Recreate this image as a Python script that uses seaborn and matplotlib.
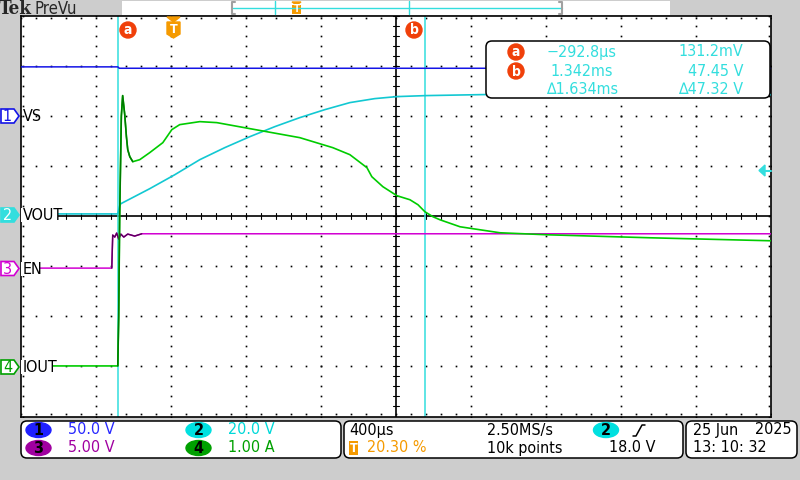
import numpy as np
import pandas as pd
import matplotlib
matplotlib.use('Agg')
import matplotlib.pyplot as plt
from matplotlib.patches import FancyBboxPatch, Rectangle, Ellipse, Circle, Polygon
import seaborn as sns

# ---- scope settings ----
T_DIV = 0.4        # ms per division (400 us/div)
T_CENTER = 1.1885  # ms at screen centre (trigger at 20.30 %)

# ---- traces (time in ms) ----
vs_t = [-0.811, -0.293, -0.285, 3.189]
vs_v = [49.2, 49.2, 47.8, 47.8]

vout_t = [-0.811, -0.293, -0.283, -0.277, -0.123, 0.011, 0.144, 0.277, 0.411, 0.544,
          0.677, 0.811, 0.944, 1.077, 1.195, 1.349, 1.653, 3.189]
vout_v = [0.13, 0.13, 3.4, 4.2, 10.2, 15.8, 21.8, 26.6, 31.0, 35.0,
          38.6, 41.8, 44.6, 46.2, 47.0, 47.4, 47.8, 47.8]

en_t = [-0.811, -0.325, -0.320, -0.309, -0.299, -0.288, -0.277, -0.261, -0.240, -0.203, -0.165, 3.189]
en_v = [0.0, 0.0, 3.3, 3.1, 3.5, 2.9, 3.4, 3.1, 3.4, 3.2, 3.43, 3.43]

iout_t = [-0.811, -0.293, -0.288, -0.283, -0.274, -0.267, -0.256, -0.247, -0.240, -0.229,
          -0.213, -0.176, -0.123, -0.053, -0.005, 0.037, 0.144, 0.235, 0.411, 0.677,
          0.853, 0.944, 1.035, 1.061, 1.120, 1.195, 1.264, 1.307, 1.344, 1.387,
          1.424, 1.531, 1.744, 1.995, 2.544, 3.189]
iout_a = [0.01, 0.01, 1.0, 3.0, 5.0, 5.41, 5.03, 4.59, 4.33, 4.19,
          4.09, 4.13, 4.27, 4.47, 4.73, 4.83, 4.89, 4.87, 4.75, 4.57,
          4.37, 4.23, 3.97, 3.79, 3.59, 3.41, 3.33, 3.23, 3.09, 2.99,
          2.93, 2.79, 2.67, 2.63, 2.57, 2.51]

cursor_t = [-0.2928, 1.342]

# volts (or amps) per division and ground position in divisions
ch_scale = {'VS': 50.0, 'VOUT': 20.0, 'EN': 5.0, 'IOUT': 1.0}
ch_offset = {'VS': 2.0, 'VOUT': 0.04, 'EN': -1.036, 'IOUT': -3.0}


def to_screen(t, v, ch):
    return pd.DataFrame({'x': (np.asarray(t) - T_CENTER) / T_DIV,
                         'y': np.asarray(v) / ch_scale[ch] + ch_offset[ch]})


sns.set_style('white')
FONT = ['DejaVu Sans Condensed', 'Liberation Sans Narrow', 'DejaVu Sans']
plt.rcParams['font.family'] = FONT
plt.rcParams['font.stretch'] = 'condensed'

GRAY = '#cdcdcd'
BLUE = '#1414e6'
CYAN = '#12c8d2'
CUR = '#33dede'
MAG = '#d200d2'
GREEN = '#00cc00'
DKGREEN = '#007a00'
ORANGE = '#f59a00'
RED = '#f0400a'
FS = 11.5

fig = plt.figure(figsize=(8, 4.8), dpi=100, facecolor=GRAY)
ax = fig.add_axes([20.5 / 800, 63.5 / 480, 750.5 / 800, 400.5 / 480])
ax.set_facecolor('white')
ax.set_xlim(-5, 5)
ax.set_ylim(-4, 4)
ax.set_xticks([])
ax.set_yticks([])
for s in ax.spines.values():
    s.set_color('black')
    s.set_linewidth(1.2)

# graticule: dotted divisions, solid centre cross with ticks
dot = dict(ls='none', marker='s', ms=1.2, mew=0, color='black')
xs = np.arange(-5, 5.001, 0.2)
ys = np.arange(-4, 4.001, 0.2)
for gy in [-3, -2, -1, 1, 2, 3]:
    ax.plot(xs, np.full_like(xs, gy), **dot)
for gx in [-4, -3, -2, -1, 1, 2, 3, 4]:
    ax.plot(np.full_like(ys, gx), ys, **dot)
ax.plot(xs, np.full_like(xs, 3.96), **dot)
ax.plot(xs, np.full_like(xs, -3.96), **dot)
ax.plot(np.full_like(ys, -4.97), ys, **dot)
ax.plot(np.full_like(ys, 4.97), ys, **dot)
ax.axhline(0, color='black', lw=1.2)
ax.axvline(0, color='black', lw=1.2)
for tx in xs:
    ax.plot([tx, tx], [-0.06, 0.06], color='black', lw=0.8)
for ty in ys:
    ax.plot([-0.04, 0.04], [ty, ty], color='black', lw=0.8)

# cursors
for ct in cursor_t:
    ax.axvline((ct - T_CENTER) / T_DIV, color=CUR, lw=1.1, zorder=2)

# traces
kw = dict(x='x', y='y', sort=False, estimator=None, legend=False, ax=ax, zorder=3)
sns.lineplot(data=to_screen(vs_t, vs_v, 'VS'), color=BLUE, lw=1.1, **kw)
sns.lineplot(data=to_screen(vout_t, vout_v, 'VOUT'), color=CYAN, lw=1.2, **kw)
en = to_screen(en_t, en_v, 'EN')
sns.lineplot(data=en, color=MAG, lw=1.1, **kw)
sns.lineplot(data=en.iloc[1:11], color='#5a005a', lw=1.0, **kw)
io = to_screen(iout_t, iout_a, 'IOUT')
sns.lineplot(data=io, color=GREEN, lw=1.2, **kw)
sns.lineplot(data=io.iloc[1:11], color=DKGREEN, lw=1.1, **kw)

# ---- overlay in pixel coordinates ----
ov = fig.add_axes([0, 0, 1, 1], zorder=5)
ov.set_xlim(0, 800)
ov.set_ylim(480, 0)
ov.axis('off')
ov.patch.set_alpha(0)

# top bar
ov.text(-1, 9, 'Tek', family='DejaVu Serif', weight='bold', fontsize=13.5, va='center', ha='left')
ov.text(34, 8.5, 'PreVu', fontsize=12, va='center', ha='left')
ov.add_patch(Rectangle((122, 1), 548, 14, facecolor='white', edgecolor='none'))
ov.plot([233, 562], [7.5, 7.5], color=CUR, lw=1)
ov.plot([275, 275], [1, 14], color=CUR, lw=1)
ov.plot([409, 409], [1, 14], color=CUR, lw=1)
ov.plot([235, 232, 232, 235], [2, 2, 14, 14], color='#a0a0a0', lw=1.5)
ov.plot([559, 562, 562, 559], [2, 2, 14, 14], color='#a0a0a0', lw=1.5)
ov.add_patch(Polygon([(292, 2), (301, 2), (296.5, 5)], color=ORANGE))
ov.add_patch(Rectangle((292, 5), 9, 9, facecolor=ORANGE, edgecolor='none'))
ov.text(296.5, 9.5, 'T', color='white', fontsize=7, weight='bold', ha='center', va='center')


def circ_label(x, y, ch):
    ov.add_patch(Circle((x, y), 8, color=RED))
    ov.text(x, y + 0.5, ch, color='white', fontsize=10, weight='bold', ha='center', va='center')


circ_label(128, 30, 'a')
circ_label(414, 30, 'b')
# trigger position marker
ov.add_patch(Polygon([(167, 17), (180, 17), (173.5, 22)], color=ORANGE))
ov.add_patch(Polygon([(167, 22), (180, 22), (180, 34), (173.5, 38), (167, 34)], color=ORANGE))
ov.text(173.5, 29.5, 'T', color='white', fontsize=9, weight='bold', ha='center', va='center')

# cursor readout
ov.add_patch(FancyBboxPatch((486, 41), 284, 57, boxstyle='round,pad=0,rounding_size=6',
                            facecolor='white', edgecolor='black', lw=1.1))
circ_label(516, 52, 'a')
circ_label(516, 71, 'b')
for yy, ttxt, vtxt in [(52, '\u2212292.8\u00b5s', '131.2mV'),
                       (71, '1.342ms', '47.45 V'),
                       (90, '\u22061.634ms', '\u220647.32 V')]:
    ov.text(582, yy, ttxt, color=CUR, fontsize=FS, ha='center', va='center')
    ov.text(743, yy, vtxt, color=CUR, fontsize=FS, ha='right', va='center')

# trigger level arrow
ov.add_patch(Polygon([(759, 170.5), (765, 165), (765, 176)], color=CUR))
ov.plot([764, 771], [170.5, 170.5], color=CUR, lw=1.5)


# channel markers + labels on the left
def tag(y, num, edge, fill, tcol, label, cover):
    ov.add_patch(Polygon([(1, y - 7), (14, y - 7), (19, y), (14, y + 7), (1, y + 7)],
                         facecolor=fill, edgecolor=edge, lw=1.2))
    ov.text(7.5, y + 0.5, num, color=tcol, fontsize=FS, ha='center', va='center')
    if cover:
        ov.add_patch(Rectangle((21, y - 7), cover - 21, 14, facecolor='white', edgecolor='none'))
    ov.text(23, y + 0.5, label, color='black', fontsize=FS, ha='left', va='center')


tag(116, '1', BLUE, 'white', BLUE, 'VS', 0)
tag(215, '2', CUR, CUR, 'white', 'VOUT', 58)
tag(268.5, '3', MAG, 'white', MAG, 'EN', 40)
tag(367, '4', '#00a000', 'white', '#00a000', 'IOUT', 52)

# bottom info boxes
for x0, x1 in [(21, 341), (344, 683), (686, 797)]:
    ov.add_patch(FancyBboxPatch((x0, 421), x1 - x0, 37, boxstyle='round,pad=0,rounding_size=6',
                                facecolor='white', edgecolor='black', lw=1.1))


def chip(x, y, num, col):
    ov.add_patch(Ellipse((x, y), 25, 15, color=col))
    ov.text(x, y + 0.5, num, color='black', fontsize=FS, weight='bold', ha='center', va='center')


chip(38.5, 430, '1', '#2020ff')
chip(38.5, 448, '3', '#a000a0')
chip(198.5, 430, '2', '#00e0e0')
chip(198.5, 448, '4', '#00a000')
ov.text(68, 430, '50.0 V', color='#2828ff', fontsize=FS, va='center')
ov.text(68, 448, '5.00 V', color='#a000a0', fontsize=FS, va='center')
ov.text(228, 430, '20.0 V', color='#00d8d8', fontsize=FS, va='center')
ov.text(228, 448, '1.00 A', color='#00a000', fontsize=FS, va='center')

ov.text(349, 430, '400\u00b5s', color='black', fontsize=FS, va='center')
ov.add_patch(Rectangle((349, 441), 9, 14, facecolor=ORANGE, edgecolor='none'))
ov.text(353.5, 448.5, 'T', color='white', fontsize=9, weight='bold', ha='center', va='center')
ov.text(367, 448, '20.30 %', color=ORANGE, fontsize=FS, va='center')
ov.text(487, 430, '2.50MS/s', color='black', fontsize=FS, va='center')
ov.text(487, 448, '10k points', color='black', fontsize=FS, va='center')
chip(606, 430, '2', '#00e0e0')
ov.plot([633, 636, 642, 645], [436, 436, 425, 425], color='black', lw=1.1)
ov.text(609, 448, '18.0 V', color='black', fontsize=FS, va='center')

ov.text(693, 430, '25 Jun', color='black', fontsize=FS, va='center')
ov.text(792, 430, '2025', color='black', fontsize=FS, va='center', ha='right')
ov.text(693, 448, '13: 10: 32', color='black', fontsize=FS, va='center')

fig.savefig('out.png', dpi=100, facecolor=GRAY)
